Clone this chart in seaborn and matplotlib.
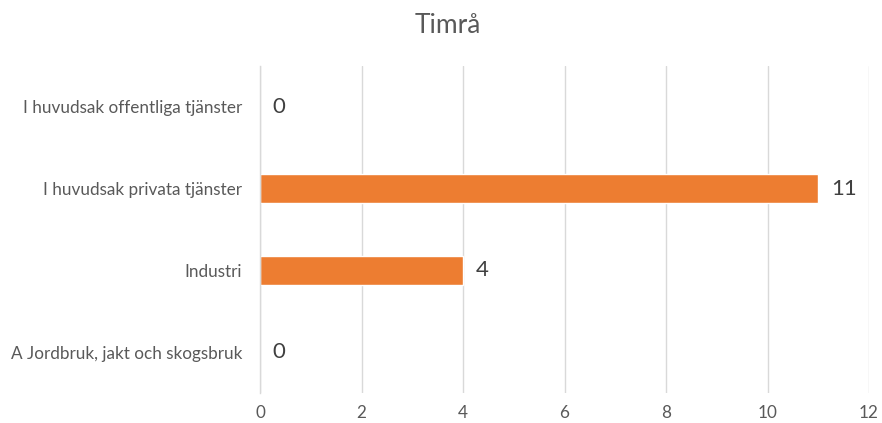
import matplotlib
matplotlib.use("Agg")
import matplotlib.pyplot as plt
import seaborn as sns
import pandas as pd

categories = ["I huvudsak offentliga tjänster", "I huvudsak privata tjänster",
              "Industri", "A Jordbruk, jakt och skogsbruk"]
values = [0, 11, 4, 0]
x_ticks = [0, 2, 4, 6, 8, 10, 12]
title = "Timrå"

df = pd.DataFrame({"cat": categories, "val": values})

sns.set_theme(style="white")
plt.rcParams['font.family'] = ['Lato', 'DejaVu Sans']

fig = plt.figure(figsize=(8.82, 4.23), dpi=100)
ax = fig.add_axes([0.2948, 0.071, 0.6905, 0.773])

sns.barplot(data=df, x="val", y="cat", order=categories, orient="h",
            color="#ED7D31", width=0.36, saturation=1, ax=ax)

ax.set_xlim(0, 12)
ax.set_xticks(x_ticks)
ax.set_xticklabels([str(t) for t in x_ticks])
ax.xaxis.grid(True, color="#d9d9d9", linewidth=1)
ax.set_axisbelow(True)
for s in ["top", "right", "bottom"]:
    ax.spines[s].set_visible(False)
ax.spines["left"].set_color("#d9d9d9")
ax.spines["left"].set_linewidth(1)
ax.tick_params(axis="both", length=0, colors="#595959", labelsize=12.3)
ax.tick_params(axis="x", pad=9)
ax.tick_params(axis="y", pad=13)
ax.set_xlabel("")
ax.set_ylabel("")

for i, v in enumerate(values):
    ax.annotate(str(v), xy=(v, i), xytext=(9, 0), textcoords="offset points",
                va="center", ha="left", fontsize=16, color="#404040")

fig.text(0.508, 0.94, title, ha="center", va="center", fontsize=19, color="#595959")

fig.savefig("out.png", dpi=100)
